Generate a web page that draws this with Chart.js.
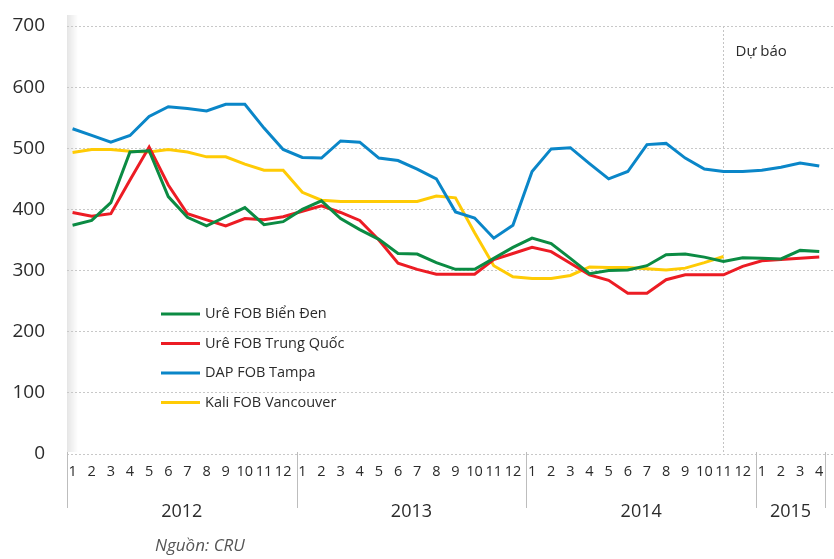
<!DOCTYPE html>
<html>
<head>
<meta charset="utf-8">
<script src="https://cdn.jsdelivr.net/npm/chart.js@4/dist/chart.umd.min.js"></script>
<style>
  html, body { margin: 0; padding: 0; background: #fff; }
  #wrap { position: relative; width: 834px; height: 559px; }
</style>
</head>
<body>
<div id="wrap"><canvas id="chart"></canvas></div>
<script>
// months 2012-01 .. 2015-04
const months = ['1','2','3','4','5','6','7','8','9','10','11','12',
                '1','2','3','4','5','6','7','8','9','10','11','12',
                '1','2','3','4','5','6','7','8','9','10','11','12',
                '1','2','3','4'];
const years = ['2012', '2013', '2014', '2015'];
const yTicks = [0, 100, 200, 300, 400, 500, 600, 700];
const forecastIndex = 34; // 11/2014

const ureaBlackSea = [374,382,411,494,496,421,387,373,388,403, 375,380,400,414,385,367,351,328,327,313,
                      302,302,320,338,353,344,320,295,300,301, 308,326,327,322,315,321,320,319,333,331];
const ureaChina    = [395,389,393,448,502,440,393,383,373,385, 383,388,397,406,395,382,350,312,302,294,
                      294,294,318,328,338,331,312,293,284,263, 263,285,293,293,293,307,316,318,320,322];
const dapTampa     = [532,521,510,521,552,568,565,561,572,572, 533,498,485,484,512,510,484,480,466,450,
                      396,386,353,374,462,499,501,475,450,462, 506,508,484,466,462,462,464,469,476,471];
const potashVanc   = [493,498,498,495,494,498,494,486,486,474, 464,464,428,415,413,413,413,413,413,422,
                      419,362,308,290,287,287,292,306,305,305, 303,301,304,313,323,null,null,null,null,null];

const seriesNames = ['Urê FOB Biển Đen', 'Urê FOB Trung Quốc', 'DAP FOB Tampa', 'Kali FOB Vancouver'];
const seriesColors = ['#0b8b43', '#ec1c24', '#0a86c8', '#ffcb05'];

const toPoints = arr => arr.map((v, i) => ({ x: i, y: v }));

const FONT = 'Open Sans';
const TEXT = '#2b2b2b';

// decorations: left shadow, year bands, legend, forecast label, source
const decor = {
  id: 'decor',
  beforeDraw(chart) {
    const { ctx, chartArea } = chart;
    const g = ctx.createLinearGradient(chartArea.left, 0, chartArea.left + 11, 0);
    g.addColorStop(0, 'rgba(0,0,0,0.10)');
    g.addColorStop(1, 'rgba(0,0,0,0)');
    ctx.save();
    ctx.fillStyle = g;
    ctx.fillRect(chartArea.left, 15, 11, chartArea.bottom - 17);
    ctx.restore();
  },
  afterDraw(chart) {
    const { ctx, chartArea } = chart;
    const xs = chart.scales.x;
    ctx.save();

    // year separators + year labels
    const seps = [xs.min, 11.7, 23.7, 35.7, 39.3].map(v => xs.getPixelForValue(v));
    ctx.strokeStyle = '#bdbdbd';
    ctx.lineWidth = 1;
    seps.forEach(px => {
      ctx.beginPath();
      ctx.moveTo(Math.round(px) + 0.5, chartArea.bottom - 2);
      ctx.lineTo(Math.round(px) + 0.5, 508);
      ctx.stroke();
    });
    ctx.fillStyle = TEXT;
    ctx.font = `18px "${FONT}"`;
    ctx.textAlign = 'center';
    ctx.textBaseline = 'middle';
    years.forEach((y, i) => ctx.fillText(y, (seps[i] + seps[i + 1]) / 2, 512));

    // forecast label
    ctx.font = `15px "${FONT}"`;
    ctx.textAlign = 'left';
    ctx.fillText('Dự báo', xs.getPixelForValue(forecastIndex) + 12, 52);

    // legend
    ctx.font = `14.5px "${FONT}"`;
    chart.data.datasets.forEach((ds, i) => {
      const y = 314 + i * 29.5;
      ctx.strokeStyle = ds.borderColor;
      ctx.lineWidth = 3;
      ctx.beginPath();
      ctx.moveTo(161, y);
      ctx.lineTo(200, y);
      ctx.stroke();
      ctx.fillStyle = TEXT;
      ctx.fillText(ds.label, 205, y);
    });

    // source
    ctx.font = `italic 17px "${FONT}"`;
    ctx.fillStyle = '#555';
    ctx.fillText('Nguồn: CRU', 155, 546);
    ctx.restore();
  }
};

new Chart(document.getElementById('chart'), {
  type: 'line',
  data: {
    datasets: [ureaBlackSea, ureaChina, dapTampa, potashVanc].map((d, i) => ({
      label: seriesNames[i],
      data: toPoints(d),
      borderColor: seriesColors[i],
      backgroundColor: seriesColors[i],
      borderWidth: 3,
      pointRadius: 0,
      tension: 0,
      spanGaps: false
    }))
  },
  options: {
    responsive: true,
    maintainAspectRatio: false,
    animation: false,
    layout: { padding: { top: 26, right: 0, left: 0, bottom: 0 } },
    plugins: { legend: { display: false }, tooltip: { enabled: false } },
    scales: {
      x: {
        type: 'linear',
        bounds: 'data',
        min: -0.29,
        max: 39.77,
        afterBuildTicks: s => { s.ticks = months.map((m, i) => ({ value: i })); },
        afterFit: s => { s.height = 105; },
        grid: {
          drawTicks: false,
          lineWidth: 1,
          color: c => (c.tick && c.tick.value === forecastIndex) ? '#c4c4c4' : 'rgba(0,0,0,0)'
        },
        border: { display: false, dash: [2, 2] },
        ticks: {
          autoSkip: false,
          maxRotation: 0,
          padding: 9,
          color: TEXT,
          font: { family: FONT, size: 14.5 },
          callback: v => months[v]
        }
      },
      y: {
        min: 0,
        max: 700,
        afterBuildTicks: s => { s.ticks = yTicks.map(v => ({ value: v })); },
        afterFit: s => { s.width = 67; s.paddingTop = 4; s.paddingBottom = 0; },
        grid: { color: '#c8c8c8', drawTicks: false, lineWidth: 1 },
        border: { display: false, dash: [2, 2] },
        ticks: {
          padding: 22,
          color: TEXT,
          font: { family: FONT, size: 19 }
        }
      }
    }
  },
  plugins: [decor]
});
</script>
</body>
</html>
